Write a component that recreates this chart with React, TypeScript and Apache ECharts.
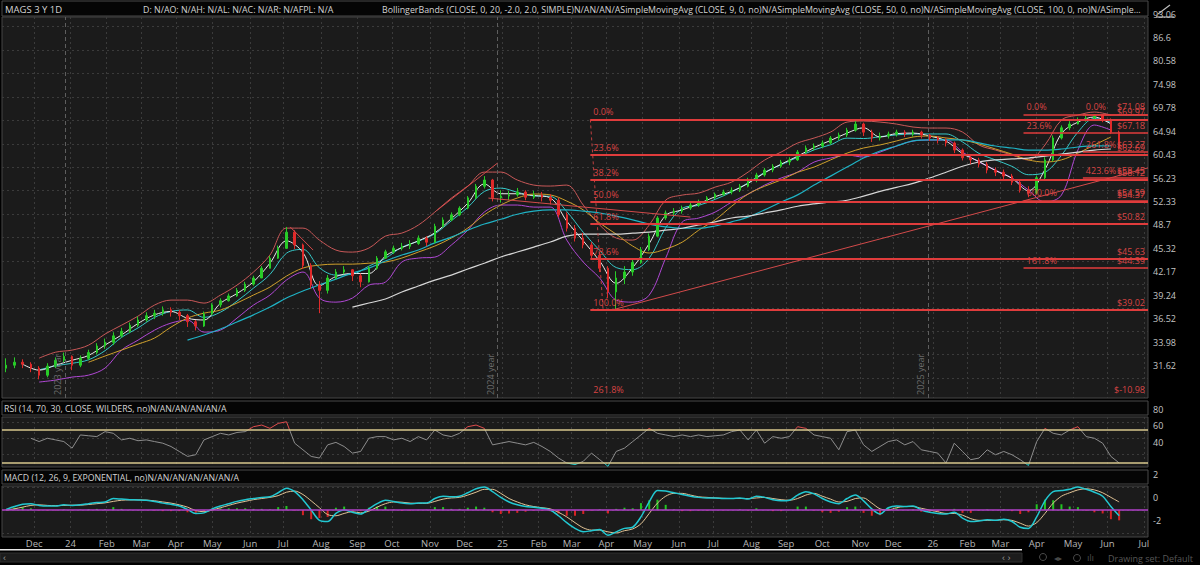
import { useEffect, useRef } from "react";
import * as echarts from "echarts";

// ---- calendar: one category per week, Monday dates ----
const DAY = 86400000;
const FIRST_MONDAY = Date.UTC(2023, 10, 6);
const WEEK_COUNT = 139;
const weeks = Array.from({ length: WEEK_COUNT }, (_, i) =>
  new Date(FIRST_MONDAY + i * 7 * DAY).toISOString().slice(0, 10)
);
const MONTH_NAMES = ["Jan", "Feb", "Mar", "Apr", "May", "Jun", "Jul", "Aug", "Sep", "Oct", "Nov", "Dec"];

// ---- weekly price data ----
const firstOpen = 32.6;
const closes = [
  32.9, 33.2, 33.0, 32.6, 31.9, 32.8, 33.4, 33.8, 32.9, 33.6,
  34.2, 34.9, 35.3, 36.0, 36.5, 37.2, 37.8, 38.3, 38.6, 39.0,
  38.7, 38.3, 37.6, 37.1, 38.5, 39.6, 40.1, 40.7, 41.4, 42.2,
  43.0, 44.3, 45.7, 47.1, 49.5, 47.6, 44.7, 42.1, 41.4, 43.0,
  43.8, 44.1, 43.3, 42.5, 44.3, 45.7, 46.6, 47.1, 47.4, 47.8,
  48.6, 48.0, 50.4, 51.4, 52.2, 53.3, 55.0, 57.0, 58.1, 55.0,
  55.3, 55.5, 56.0, 55.1, 55.5, 55.1, 54.6, 52.2, 50.1, 48.6,
  47.6, 46.1, 44.3, 41.2, 43.0, 43.8, 45.1, 46.9, 48.9, 51.7,
  52.5, 52.8, 53.3, 53.8, 54.3, 55.0, 55.6, 56.0, 56.3, 57.0,
  58.1, 59.0, 59.9, 60.6, 61.4, 61.8, 63.3, 64.1, 64.5, 65.1,
  66.1, 66.7, 67.7, 69.0, 67.3, 66.1, 66.5, 66.9, 67.3, 66.9,
  67.3, 66.7, 66.1, 65.7, 65.1, 63.7, 62.2, 61.8, 61.0, 59.9,
  59.5, 58.8, 57.7, 56.3, 55.8, 58.5, 61.8, 66.1, 68.2, 69.0,
  69.9, 70.3, 70.9, 69.9, 67.3, 64.1,
];
const highs = [
  33.6, 33.7, 33.5, 33.2, 32.8, 33.1, 33.7, 34.2, 33.9, 33.9,
  34.5, 35.2, 35.7, 36.4, 36.9, 37.5, 38.2, 38.7, 39.0, 39.4,
  39.3, 39.0, 38.5, 37.8, 38.8, 39.8, 40.4, 41.0, 41.7, 42.5,
  43.3, 44.6, 46.0, 47.5, 50.3, 49.8, 47.8, 45.0, 42.6, 43.4,
  44.2, 44.6, 44.2, 43.6, 44.6, 46.0, 46.9, 47.5, 47.9, 48.3,
  49.0, 48.9, 50.8, 51.8, 52.6, 53.6, 55.3, 57.4, 58.8, 58.3,
  56.3, 56.2, 56.7, 56.3, 56.2, 56.0, 55.6, 55.0, 52.6, 50.6,
  49.4, 48.0, 46.5, 44.6, 43.9, 44.6, 45.6, 47.3, 49.3, 52.0,
  52.9, 53.3, 53.7, 54.2, 54.7, 55.3, 55.9, 56.4, 56.8, 57.4,
  58.5, 59.4, 60.3, 61.0, 61.8, 62.3, 63.7, 64.6, 65.0, 65.6,
  66.5, 67.2, 68.2, 70.0, 69.3, 67.8, 67.2, 67.4, 67.8, 67.7,
  67.8, 67.6, 66.9, 66.5, 66.0, 65.4, 64.0, 62.8, 62.2, 61.4,
  60.4, 60.0, 59.2, 58.0, 57.0, 58.9, 62.3, 66.6, 68.7, 69.6,
  70.4, 70.8, 71.08, 71.0, 70.2, 67.6,
];
const lows = [
  32.2, 32.6, 32.6, 32.2, 31.5, 31.7, 32.6, 33.2, 32.4, 32.7,
  33.4, 34.0, 34.6, 35.0, 35.8, 36.3, 37.0, 37.6, 37.9, 38.3,
  38.2, 37.8, 37.0, 36.6, 37.0, 38.4, 39.3, 40.0, 40.6, 41.2,
  42.0, 43.0, 44.3, 45.6, 47.0, 47.0, 44.2, 41.6, 38.6, 41.0,
  42.8, 43.5, 42.6, 41.8, 42.4, 44.1, 45.6, 46.3, 46.8, 47.0,
  47.6, 47.4, 47.8, 50.2, 51.2, 52.0, 53.1, 54.8, 56.6, 54.4,
  54.2, 54.6, 55.2, 54.6, 54.8, 54.4, 53.9, 51.8, 49.6, 48.1,
  47.1, 45.6, 43.8, 40.4, 39.0, 42.2, 43.3, 44.9, 46.7, 48.8,
  51.4, 52.0, 52.4, 53.0, 53.5, 54.1, 54.8, 55.3, 55.6, 56.0,
  56.8, 57.7, 58.7, 59.5, 60.3, 60.8, 61.6, 63.0, 63.6, 64.1,
  64.8, 65.7, 66.3, 67.4, 66.5, 65.3, 65.6, 66.0, 66.4, 66.3,
  66.4, 66.0, 65.5, 65.0, 64.4, 63.1, 61.7, 61.0, 60.4, 59.3,
  58.8, 58.2, 57.2, 55.9, 55.1, 55.6, 58.2, 61.5, 65.8, 67.7,
  68.9, 69.5, 69.8, 69.4, 66.9, 63.8,
];

// ---- overlay studies, sampled every second week ----
const bbStart = 4;
const bbUpper = [
  33.62, 34.24, 34.46, 34.99, 36.2, 37.2, 38.25, 39.57, 40.18, 40.18, 39.81, 40.8, 42.07, 43.79,
  46.14, 50.12, 50.12, 48.31, 46.85, 46.56, 47.14, 48.9, 49.36, 50.59, 52.65, 54.96, 57.03, 59.53,
  59.53, 58.1, 57.2, 57.03, 57.2, 53.8, 50.59, 48.61, 48.31, 50.59, 54.62, 55.47, 55.81, 56.85,
  57.73, 59.53, 61.77, 63.3, 65.08, 66.09, 67.32, 69.41, 69.63, 69.41, 68.99, 68.36, 68.15, 68.15,
  67.32, 64.69, 63.7, 62.73, 61.77, 64.69, 69.84, 70.92, 71.58, 70.92,
];
const bbLower = [
  31.24, 31.43, 31.72, 31.91, 32.61, 34.46, 35.53, 36.64, 37.44, 37.79, 36.42, 36.64, 38.02, 39.57,
  40.8, 42.73, 43.79, 40.43, 39.93, 40.43, 42.07, 42.46, 45.16, 45.71, 45.85, 47.58, 49.81, 52.65,
  53.8, 53.8, 53.46, 53.46, 48.31, 45.16, 42.99, 40.18, 39.93, 40.8, 45.71, 51.05, 51.69, 52.65,
  54.29, 55.64, 57.2, 58.45, 59.53, 61.39, 62.15, 62.73, 62.34, 63.3, 64.49, 65.48, 65.68, 65.68,
  63.3, 61.39, 59.9, 58.45, 56.33, 54.29, 55.47, 63.7, 68.78, 67.73,
];
const bbMid = [
  32.43, 32.84, 33.09, 33.45, 34.4, 35.83, 36.89, 38.1, 38.81, 38.98, 38.1, 38.72, 40.05, 41.68,
  43.47, 46.4, 46.95, 44.37, 43.39, 43.5, 44.6, 45.68, 47.26, 48.15, 49.25, 51.27, 53.42, 56.09,
  56.67, 55.95, 55.33, 55.25, 52.75, 49.48, 46.79, 44.4, 44.12, 45.7, 50.17, 53.26, 53.75, 54.75,
  56.01, 57.59, 59.49, 60.88, 62.31, 63.74, 64.74, 66.07, 65.99, 66.36, 66.74, 66.92, 66.92, 66.92,
  65.31, 63.04, 61.8, 60.59, 59.05, 59.49, 62.66, 67.31, 70.18, 69.33,
];
const sma9Start = 2;
const sma9 = [
  33.0, 32.4, 32.9, 33.4, 33.9, 35.0, 36.1, 37.4, 38.4, 38.8, 38.0, 37.8, 39.8, 41.0, 42.5, 45.0,
  48.2, 46.5, 42.0, 43.2, 43.6, 43.6, 46.0, 47.2, 48.2, 49.4, 51.6, 54.1, 57.4, 55.7, 55.7, 55.4,
  55.0, 51.2, 48.2, 45.3, 42.3, 44.4, 47.8, 52.1, 53.0, 54.0, 55.2, 56.1, 57.5, 59.4, 61.0, 62.5,
  64.2, 65.6, 67.1, 68.2, 66.3, 67.0, 67.1, 66.5, 65.5, 63.0, 61.5, 59.8, 58.4, 56.2, 60.0, 67.0,
  69.4, 70.5, 69.0,
];
const sma50Start = 10;
const sma50 = [
  33.2, 33.84, 34.46, 35.1, 35.76, 36.98, 38.02, 38.6, 38.97, 39.82, 40.81, 41.82, 43.25, 44.33,
  44.74, 44.87, 44.87, 45.0, 45.15, 45.72, 46.57, 47.43, 48.61, 50.13, 52.2, 53.8, 54.97, 55.65,
  55.5, 54.46, 53.0, 50.9, 49.2, 47.43, 46.43, 47.0, 48.0, 49.8, 51.4, 53.6, 55.65, 57.0, 58.1,
  59.5, 60.45, 61.8, 63.1, 64.1, 64.7, 65.5, 66.3, 66.5, 66.1, 65.7, 64.9, 63.9, 62.9, 61.8, 61.4,
  61.8, 63.1, 64.7, 66.3,
];
const sma100Start = 22;
const sma100 = [
  35.54, 36.1, 36.76, 37.56, 38.4, 39.33, 40.43, 41.32, 42.1, 42.86, 43.66, 44.33, 45.3, 46.15,
  46.86, 47.9, 48.76, 49.8, 50.75, 51.5, 52.3, 52.8, 53.0, 53.0, 52.8, 52.5, 52.0, 51.4, 50.75,
  50.3, 50.1, 50.1, 50.45, 51.1, 51.85, 53.0, 54.3, 55.5, 57.2, 58.8, 60.45, 62.15, 63.5, 64.5,
  65.5, 65.7, 65.7, 65.7, 65.1, 64.5, 64.1, 63.7, 63.7, 63.9, 64.3, 64.5, 64.5,
];
const sma200Start = 42;
const sma200 = [
  39.33, 39.82, 40.31, 41.19, 41.95, 42.73, 43.39, 44.2, 45.0, 45.86, 46.57, 47.28, 48.02, 48.9,
  49.2, 49.2, 49.2, 49.35, 49.5, 49.8, 50.1, 50.6, 51.1, 51.7, 52.0, 52.5, 53.0, 53.6, 54.0, 54.3,
  54.6, 55.3, 56.1, 56.8, 57.5, 58.45, 59.5, 60.6, 61.4, 61.8, 62.0, 62.15, 62.5, 62.9, 63.3,
  63.7, 63.9,
];

// ---- lower studies, weekly ----
const rsi = [
  null, null, null, 60, 56, 60, 58, 56, 48, 64,
  63, 62, 68, 66, 58, 60, 57, 58, 56, 54,
  50, 44, 38, 40, 58, 62, 66, 64, 67, 68,
  74, 76, 72, 78, 80, 54, 46, 38, 36, 52,
  55, 50, 42, 44, 60, 62, 62, 58, 60, 56,
  62, 58, 70, 64, 62, 66, 74, 76, 72, 52,
  54, 56, 54, 52, 55, 50, 44, 36, 30, 28,
  32, 42, 34, 26, 44, 48, 56, 64, 72, 66,
  64, 62, 64, 62, 64, 62, 63, 64, 68, 70,
  58, 70, 54, 62, 60, 62, 74, 72, 64, 62,
  60, 46, 68, 70, 52, 44, 50, 56, 58, 52,
  56, 46, 44, 42, 30, 54, 44, 34, 36, 46,
  40, 44, 40, 34, 27, 56, 72, 66, 64, 70,
  74, 62, 60, 54, 38, 30,
];
const macd = [
  0.05, 0.3, 0.5, 0.55, 0.4, 0.35, 0.35, 0.45, 0.4, 0.45,
  0.55, 0.65, 0.7, 1.0, 0.95, 0.9, 0.88, 0.85, 0.75, 0.6,
  0.5, 0.35, 0.05, -0.3, -0.25, 0.1, 0.35, 0.55, 0.75, 0.9,
  1.0, 1.1, 1.15, 1.5, 1.9, 1.6, 0.9, 0.0, -0.9, -1.0,
  -0.3, 0.0, -0.2, -0.35, 0.1, 0.55, 0.85, 0.75, 0.6, 0.55,
  0.6, 0.6, 1.0, 1.2, 1.15, 1.2, 1.5, 1.85, 2.0, 1.6,
  1.1, 0.7, 0.45, 0.3, 0.25, 0.15, 0.0, -0.5, -1.1, -1.6,
  -1.9, -1.8, -1.7, -2.2, -1.9, -1.6, -1.5, -0.6, 0.7, 1.7,
  1.65, 1.5, 1.35, 1.2, 1.1, 1.05, 1.05, 1.0, 1.0, 1.05,
  0.95, 1.2, 1.1, 0.9, 0.8, 0.85, 1.3, 1.6, 1.4, 1.0,
  0.7, 0.55, 1.0, 1.3, 0.8, 0.1, -0.35, 0.2, 0.35, 0.3,
  0.35, 0.0, -0.2, -0.3, -0.35, -0.2, -0.7, -1.0, -0.95, -0.85,
  -0.9, -0.8, -1.0, -1.5, -1.6, -0.6, 0.8, 1.6, 1.7, 1.8,
  2.0, 1.8, 1.55, 1.2, 0.3, -0.5,
];
const macdSignal = [
  0.0, 0.1, 0.25, 0.4, 0.45, 0.4, 0.38, 0.4, 0.42, 0.42,
  0.48, 0.55, 0.62, 0.75, 0.85, 0.88, 0.88, 0.86, 0.8, 0.7,
  0.6, 0.45, 0.25, -0.05, -0.15, 0.0, 0.2, 0.4, 0.6, 0.75,
  0.9, 1.0, 1.1, 1.25, 1.55, 1.65, 1.35, 0.8, 0.2, -0.4,
  -0.5, -0.3, -0.15, -0.25, -0.1, 0.25, 0.55, 0.7, 0.68, 0.6,
  0.58, 0.58, 0.75, 0.95, 1.05, 1.1, 1.3, 1.55, 1.8, 1.8,
  1.45, 1.0, 0.7, 0.45, 0.3, 0.2, 0.1, -0.2, -0.6, -1.1,
  -1.55, -1.75, -1.75, -1.9, -2.0, -1.8, -1.65, -1.2, -0.3, 0.6,
  1.2, 1.45, 1.45, 1.3, 1.15, 1.1, 1.05, 1.02, 1.0, 1.0,
  1.0, 1.05, 1.1, 1.0, 0.9, 0.85, 1.0, 1.3, 1.45, 1.2,
  0.95, 0.7, 0.75, 1.0, 1.05, 0.6, 0.1, 0.0, 0.2, 0.3,
  0.3, 0.15, 0.0, -0.15, -0.3, -0.3, -0.45, -0.75, -0.9, -0.9,
  -0.9, -0.85, -0.9, -1.15, -1.4, -1.1, -0.3, 0.6, 1.2, 1.5,
  1.75, 1.85, 1.75, 1.5, 1.1, 0.7,
];
const macdDiff = [
  0.05, 0.2, 0.25, 0.15, -0.05, -0.05, -0.03, 0.05, -0.02, 0.03,
  0.07, 0.1, 0.08, 0.25, 0.1, 0.02, 0.0, -0.01, -0.05, -0.1,
  -0.1, -0.1, -0.2, -0.25, -0.1, 0.1, 0.15, 0.15, 0.15, 0.15,
  0.1, 0.1, 0.05, 0.25, 0.35, -0.05, -0.45, -0.8, -0.7, -0.6,
  0.2, 0.3, -0.05, -0.1, 0.2, 0.3, 0.3, 0.05, -0.08, -0.05,
  0.02, 0.02, 0.25, 0.25, 0.1, 0.1, 0.2, 0.3, 0.2, -0.2,
  -0.35, -0.3, -0.25, -0.15, -0.05, -0.05, -0.1, -0.3, -0.5, -0.5,
  -0.35, -0.05, 0.05, -0.3, 0.1, 0.2, 0.15, 0.6, 0.85, 0.9,
  0.45, 0.05, -0.1, -0.1, -0.05, -0.05, 0.0, -0.02, 0.0, 0.05,
  -0.05, 0.15, 0.0, -0.1, -0.1, 0.0, 0.3, 0.3, -0.05, -0.2,
  -0.25, -0.15, 0.25, 0.3, -0.25, -0.5, -0.45, 0.2, 0.15, 0.0,
  0.05, -0.15, -0.2, -0.15, -0.05, 0.1, -0.25, -0.25, -0.05, 0.05,
  0.0, 0.05, -0.1, -0.35, -0.2, 0.5, 0.9, 0.85, 0.5, 0.3,
  0.25, -0.05, -0.2, -0.3, -0.8, -0.9,
];

// ---- axis ticks ----
const priceTicks = [31.62, 33.98, 36.52, 39.24, 42.17, 45.32, 48.7, 52.33, 56.23, 60.43, 64.94, 69.78, 74.98, 80.58, 86.6, 93.06];
const rsiTicks = [40, 60, 80];
const macdTicks = [-2, 0, 2];

// ---- drawings: fibonacci sets and trend lines (week index, price) ----
const fibAStart = 70.86;
const fibALabels = ["0.0%", "23.6%", "38.2%", "50.0%", "61.8%", "78.6%", "100.0%", "261.8%"];
const fibAPrices = [69.97, 62.69, 58.12, 54.37, 50.82, 45.63, 39.02, -10.98];
const fibBStart = 123.4;
const fibBLabels = ["0.0%", "23.6%", "600.0%", "161.8%"];
const fibBPrices = [71.08, 67.18, 54.59, 44.39];
const fibCStart = 130.6;
const fibCLabels = ["0.0%", "261.8%", "423.6%"];
const fibCPrices = [71.08, 63.27, 58.45];
const trendLines = [
  [[73.65, 39.02], [138.5, 60.3]],
  [[52.3, 52.97], [59.6, 61.2]],
  [[58.5, 54.96], [83.0, 51.85]],
  [[34.45, 50.3], [37.24, 46.85]],
];
const fibAConnector = [[70.86, 69.97], [72.4, 39.02]];

const X_MAX = WEEK_COUNT - 0.5;
const PRICE_MIN = 47.15;
const PRICE_MAX = 63.41;
const RED = "#e03c3c";
const CLEAR = "rgba(0,0,0,0)";
const FONT = '"Open Sans", sans-serif';

const lp = (p: number) => 32 * Math.log10(p);

function monthTicks() {
  const pos: number[] = [];
  const names: string[] = [];
  for (let k = 0; k < 32; k++) {
    const y = 2023 + Math.floor((11 + k) / 12);
    const m = (11 + k) % 12;
    let t = Date.UTC(y, m, m === 0 ? 2 : 1);
    const wd = new Date(t).getUTCDay();
    if (wd === 6) t += 2 * DAY;
    else if (wd === 0) t += DAY;
    const days = Math.round((t - FIRST_MONDAY) / DAY);
    const v = Math.floor(days / 7) - 0.5 + ((days % 7) + 0.5) / 5;
    if (v > X_MAX) break;
    pos.push(v);
    names.push(m === 0 ? String(y).slice(2) : MONTH_NAMES[m]);
  }
  return { pos, names };
}

function buildOption() {
  const N = weeks.length;
  const { pos: monthPos, names: monthNames } = monthTicks();

  const sparse = (start: number, vals: number[]) => {
    const out: (number | null)[] = new Array(N).fill(null);
    vals.forEach((v, k) => {
      out[start + 2 * k] = lp(v);
    });
    return out;
  };

  const candles = closes.map((c, i) => {
    const o = i === 0 ? firstOpen : closes[i - 1];
    return [lp(o), lp(c), lp(lows[i]), lp(highs[i])];
  });

  const study = (name: string, data: (number | null)[], color: string, width = 1) => ({
    type: "line",
    name,
    xAxisIndex: 0,
    yAxisIndex: 0,
    data,
    connectNulls: true,
    showSymbol: false,
    symbol: "none",
    smooth: 0.35,
    silent: true,
    lineStyle: { color, width },
    z: 3,
  });

  // fibonacci lines with a label at each end
  const drawn = new Set<string>();
  const fibItems: any[] = [];
  const addFib = (start: number, labels: string[], prices: number[], width: number) => {
    labels.forEach((lbl, k) => {
      const p = prices[k];
      const off = !(p > 0) || lp(p) < PRICE_MIN;
      const u = off ? PRICE_MIN + 0.05 : lp(p);
      const lineStyle = { color: off ? CLEAR : RED, width, type: "solid" };
      const lab = { show: true, position: "insideStartTop", formatter: lbl, color: "#d84444", fontSize: 9, distance: 3, fontFamily: FONT };
      fibItems.push([{ coord: [start, u], lineStyle, label: lab }, { coord: [X_MAX, u] }]);
      const price = "$" + p.toFixed(2);
      if (!drawn.has(price)) {
        drawn.add(price);
        fibItems.push([
          {
            coord: [start, u],
            lineStyle: { color: CLEAR, width: 0 },
            label: { ...lab, position: "insideEndTop", formatter: price },
          },
          { coord: [X_MAX, u] },
        ]);
      }
    });
  };
  addFib(fibAStart, fibALabels, fibAPrices, 2);
  addFib(fibBStart, fibBLabels, fibBPrices, 1.5);
  addFib(fibCStart, fibCLabels, fibCPrices, 1.5);

  const trendItems: any[] = trendLines.map(([a, b]) => [
    { coord: [a[0], lp(a[1])], lineStyle: { color: "#d24a4a", width: 1, type: "solid" }, label: { show: false } },
    { coord: [b[0], lp(b[1])] },
  ]);
  trendItems.push([
    { coord: [fibAConnector[0][0], lp(fibAConnector[0][1])], lineStyle: { color: "#c04040", width: 1, type: [3, 3] }, label: { show: false } },
    { coord: [fibAConnector[1][0], lp(fibAConnector[1][1])] },
  ]);

  const yearItems = monthPos
    .map((v, k) => ({ v, name: monthNames[k] }))
    .filter((d) => /^\d\d$/.test(d.name))
    .map((d) => ({
      xAxis: d.v - 0.6,
      lineStyle: { color: "#5e5e5e", width: 1, type: [4, 3] },
      label: {
        show: true,
        position: "insideStartTop",
        formatter: `20${Number(d.name) - 1} year`,
        color: "#6c6c6c",
        fontSize: 9,
        distance: 3,
        fontFamily: FONT,
      },
    }));

  const grids = [
    { left: 2, top: 17, width: 1146, height: 381 },
    { left: 2, top: 417, width: 1146, height: 50 },
    { left: 2, top: 486, width: 1146, height: 51 },
  ].map((g) => ({ ...g, show: true, backgroundColor: "#1b1b1b", borderColor: "#474747", borderWidth: 1 }));

  const splitDots = { show: true, lineStyle: { color: "#3b3b3b", width: 1, type: [2, 3] } };

  const catAxis = (gridIndex: number) => ({
    type: "category",
    gridIndex,
    position: "top",
    data: weeks,
    boundaryGap: true,
    show: false,
  });
  const monthAxis = (gridIndex: number, labels: boolean) => ({
    type: "value",
    gridIndex,
    position: "bottom",
    min: -0.5,
    max: X_MAX,
    axisLine: { show: false },
    axisTick: { show: false, customValues: monthPos },
    splitLine: splitDots,
    axisLabel: {
      show: labels,
      customValues: monthPos,
      color: "#b6b6b6",
      fontSize: 9.5,
      margin: 1,
      fontFamily: FONT,
      formatter: (v: number) => {
        let best = 0;
        monthPos.forEach((p, k) => {
          if (Math.abs(p - v) < Math.abs(monthPos[best] - v)) best = k;
        });
        return monthNames[best];
      },
    },
  });

  const valueAxis = (gridIndex: number, min: number, max: number, ticks: number[], fmt: (v: number) => string) => ({
    type: "value",
    gridIndex,
    position: "right",
    min,
    max,
    axisLine: { show: false },
    axisTick: { show: false, customValues: ticks },
    splitLine: splitDots,
    axisLabel: {
      customValues: ticks,
      formatter: fmt,
      color: "#c4c4c4",
      fontSize: 9,
      margin: 5,
      verticalAlign: "bottom",
      padding: [0, 0, 8, 0],
      fontFamily: FONT,
    },
  });

  const priceU = priceTicks.map(lp);
  const priceLabel = (v: number) => {
    const k = priceU.findIndex((u) => Math.abs(u - v) < 1e-6);
    return k >= 0 ? String(priceTicks[k]) : "";
  };

  // invisible series so the month axes of the lower panes get drawn
  const anchor = (xAxisIndex: number, yAxisIndex: number, y: number) => ({
    type: "line",
    xAxisIndex,
    yAxisIndex,
    data: [[-0.5, y], [X_MAX, y]],
    symbol: "none",
    silent: true,
    lineStyle: { color: CLEAR, width: 0 },
  });

  const headerText = (x: number, y: number, text: string, scaleX = 1) => ({
    type: "text",
    x,
    y,
    scaleX,
    z: 11,
    style: { text, fill: "#d4d4d4", fontSize: 9.5, fontFamily: FONT, verticalAlign: "middle" },
  });
  const headerBar = (y: number, h: number) => ({
    type: "rect",
    z: 10,
    shape: { x: 2, y, width: 1146, height: h },
    style: { fill: "#050505", stroke: "#4a4a4a", lineWidth: 1 },
  });

  return {
    animation: false,
    backgroundColor: "#000",
    textStyle: { fontFamily: FONT },
    grid: grids,
    xAxis: [catAxis(0), catAxis(1), catAxis(2), monthAxis(0, false), monthAxis(1, false), monthAxis(2, true)],
    yAxis: [
      valueAxis(0, PRICE_MIN, PRICE_MAX, priceU, priceLabel),
      valueAxis(1, 25.15, 85.76, rsiTicks, (v) => String(v)),
      valueAxis(2, -2.35, 2.09, macdTicks, (v) => String(v)),
    ],
    visualMap: [
      {
        type: "piecewise",
        show: false,
        seriesIndex: 9,
        pieces: [
          { lt: 30, color: "#22c6c6" },
          { gte: 30, lte: 70, color: "#8c8c8c" },
          { gt: 70, color: "#e04c4c" },
        ],
      },
    ],
    series: [
      {
        type: "candlestick",
        xAxisIndex: 0,
        yAxisIndex: 0,
        data: candles,
        barMaxWidth: 2,
        silent: true,
        itemStyle: { color: "#28cc28", color0: "#e02a2a", borderColor: "#28cc28", borderColor0: "#e02a2a", borderWidth: 1 },
        z: 4,
      },
      study("BB upper", sparse(bbStart, bbUpper), "#c85858"),
      study("BB lower", sparse(bbStart, bbLower), "#b048d4"),
      study("BB mid", sparse(bbStart, bbMid), "#36c8c8"),
      study("SMA 9", sparse(sma9Start, sma9), "#ececec"),
      study("SMA 50", sparse(sma50Start, sma50), "#cfa02c"),
      study("SMA 100", sparse(sma100Start, sma100), "#1fb2c4", 1.2),
      study("SMA 200", sparse(sma200Start, sma200), "#d6d6d6", 1.2),
      {
        type: "line",
        name: "drawings",
        xAxisIndex: 3,
        yAxisIndex: 0,
        data: [],
        silent: true,
        z: 5,
        markLine: {
          silent: true,
          symbol: ["none", "none"],
          animation: false,
          data: [...yearItems, ...trendItems, ...fibItems],
        },
      },
      {
        type: "line",
        name: "RSI",
        xAxisIndex: 1,
        yAxisIndex: 1,
        data: rsi,
        showSymbol: false,
        symbol: "none",
        silent: true,
        lineStyle: { width: 1 },
        markLine: {
          silent: true,
          symbol: ["none", "none"],
          label: { show: false },
          lineStyle: { color: "#d8c88e", width: 1.5, type: "solid" },
          data: [{ yAxis: 70 }, { yAxis: 30 }],
        },
      },
      {
        type: "bar",
        name: "Diff",
        xAxisIndex: 2,
        yAxisIndex: 2,
        barWidth: 2,
        silent: true,
        data: macdDiff.map((v) => ({ value: v, itemStyle: { color: v >= 0 ? "#22c422" : "#d42424" } })),
        markLine: {
          silent: true,
          symbol: ["none", "none"],
          label: { show: false },
          lineStyle: { color: "#b040c8", width: 1.5, type: "solid" },
          data: [{ yAxis: 0 }],
        },
      },
      {
        type: "line",
        name: "Avg",
        xAxisIndex: 2,
        yAxisIndex: 2,
        data: macdSignal,
        showSymbol: false,
        symbol: "none",
        smooth: 0.3,
        silent: true,
        lineStyle: { color: "#e2c496", width: 1 },
      },
      {
        type: "line",
        name: "Value",
        xAxisIndex: 2,
        yAxisIndex: 2,
        data: macd,
        showSymbol: false,
        symbol: "none",
        smooth: 0.3,
        silent: true,
        lineStyle: { color: "#22c8d2", width: 1.5 },
      },
      anchor(4, 1, 50),
      anchor(5, 2, 0),
    ],
    graphic: [
      headerBar(1, 15),
      headerText(5, 9, "MAGS 3 Y 1D"),
      headerText(143, 9, "D: N/AO: N/AH: N/AL: N/AC: N/AR: N/AFPL: N/A", 0.93),
      headerText(
        382,
        9,
        "BollingerBands (CLOSE, 0, 20, -2.0, 2.0, SIMPLE)N/AN/AN/ASimpleMovingAvg (CLOSE, 9, 0, no)N/ASimpleMovingAvg (CLOSE, 50, 0, no)N/ASimpleMovingAvg (CLOSE, 100, 0, no)N/ASimple...",
        0.93
      ),
      headerBar(401, 14),
      headerText(4, 408, "RSI (14, 70, 30, CLOSE, WILDERS, no)N/AN/AN/AN/AN/A", 0.92),
      headerBar(470, 14),
      headerText(4, 477, "MACD (12, 26, 9, EXPONENTIAL, no)N/AN/AN/AN/AN/AN/A", 0.92),
      // top-right drawing tool glyph
      { type: "line", z: 12, shape: { x1: 1156, y1: 17, x2: 1174, y2: 17 }, style: { stroke: "#bdbdbd", lineWidth: 1.2 } },
      { type: "line", z: 12, shape: { x1: 1158, y1: 14, x2: 1170, y2: 5 }, style: { stroke: "#bdbdbd", lineWidth: 1.2 } },
      // horizontal scroller
      { type: "rect", shape: { x: 0, y: 549, width: 1022, height: 1.5 }, style: { fill: "#e6e6e6" } },
      { type: "rect", shape: { x: 0, y: 553, width: 1022, height: 9 }, style: { fill: "#1c1c1c", stroke: "#2e2e2e", lineWidth: 1 } },
      { type: "text", x: 3, y: 557.5, style: { text: "‹", fill: "#9a9a9a", fontSize: 9, verticalAlign: "middle" } },
      { type: "text", x: 1002, y: 557.5, style: { text: "‹ ›", fill: "#9a9a9a", fontSize: 9, verticalAlign: "middle" } },
      { type: "circle", shape: { cx: 1043, cy: 557, r: 3.5 }, style: { fill: "none", stroke: "#4a4a4a", lineWidth: 1 } },
      { type: "text", x: 1054, y: 558, style: { text: "◂▸", fill: "#4a4a4a", fontSize: 8, verticalAlign: "middle" } },
      { type: "circle", shape: { cx: 1077, cy: 558, r: 3.5 }, style: { fill: "none", stroke: "#4a4a4a", lineWidth: 1 } },
      { type: "text", x: 1087, y: 558, style: { text: "ılı", fill: "#4a4a4a", fontSize: 9, verticalAlign: "middle" } },
      {
        type: "text",
        x: 1108,
        y: 558,
        style: { text: "Drawing set: Default", fill: "#575757", fontSize: 9, fontFamily: FONT, verticalAlign: "middle" },
      },
    ],
  };
}

export default function App() {
  const ref = useRef<HTMLDivElement>(null);

  useEffect(() => {
    if (!ref.current) return;
    const chart = echarts.init(ref.current, null, { renderer: "svg" });
    chart.setOption(buildOption() as any);
    return () => chart.dispose();
  }, []);

  return (
    <div
      ref={ref}
      style={{ position: "fixed", left: 0, top: 0, width: 1200, height: 565, background: "#000" }}
    />
  );
}
